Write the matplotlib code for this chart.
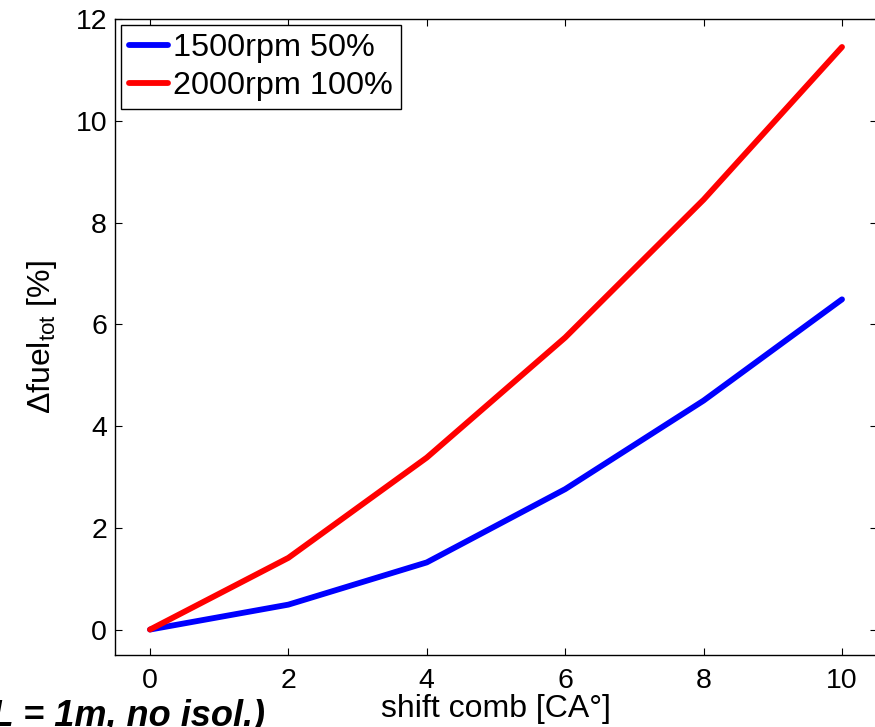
import matplotlib
matplotlib.use("Agg")
import matplotlib.pyplot as plt

plt.rcParams['font.family'] = ['Liberation Sans', 'DejaVu Sans']
plt.rcParams['mathtext.fontset'] = 'custom'
plt.rcParams['mathtext.rm'] = 'Liberation Sans'
plt.rcParams['mathtext.it'] = 'Liberation Sans:italic'
plt.rcParams['mathtext.bf'] = 'Liberation Sans:bold'

shift = [0, 2, 4, 6, 8, 10]
fuel_1500 = [0, 0.49, 1.32, 2.76, 4.50, 6.49]
fuel_2000 = [0, 1.41, 3.38, 5.74, 8.45, 11.45]
labels = ['1500rpm 50%', '2000rpm 100%']
xticks = [0, 2, 4, 6, 8, 10]
yticks = [0, 2, 4, 6, 8, 10, 12]

fig = plt.figure(figsize=(8.75, 7.27), dpi=100)
ax = fig.add_axes([115.4/875, 1 - 655/727, 761.2/875, (655 - 19)/727])

ax.plot(shift, fuel_1500, color=(0, 0, 1), lw=4.2, label=labels[0], solid_capstyle='round')
ax.plot(shift, fuel_2000, color=(1, 0, 0), lw=4.2, label=labels[1], solid_capstyle='round')

ax.set_xlim(-0.5, 10.5)
ax.set_ylim(-0.5, 12)
ax.set_xticks(xticks)
ax.set_yticks(yticks)
ax.tick_params(direction='in', length=5, width=0.8, labelsize=20.5,
               top=True, right=True)
ax.tick_params(axis='x', pad=9)
ax.tick_params(axis='y', pad=6)
for s in ax.spines.values():
    s.set_linewidth(1.0)

ax.set_xlabel('shift comb [CA°]', fontsize=23, labelpad=0)
ax.set_ylabel(r'$\Delta$fuel$_{\mathrm{tot}}$ [%]', fontsize=23, labelpad=12)

leg = ax.legend(loc='upper left', fontsize=23.3, handlelength=1.2, handletextpad=0.15,
                borderaxespad=0.18, borderpad=0.25, labelspacing=0.25,
                fancybox=False, framealpha=1, edgecolor='black')
leg.get_frame().set_linewidth(1.0)

fig.text(265/875, 1 - 726/727, '(D = 0.1m, L = 1m, no isol.)', ha='right', va='baseline',
         fontsize=26, fontweight='bold', fontstyle='italic')

fig.savefig('out.png', dpi=100)
